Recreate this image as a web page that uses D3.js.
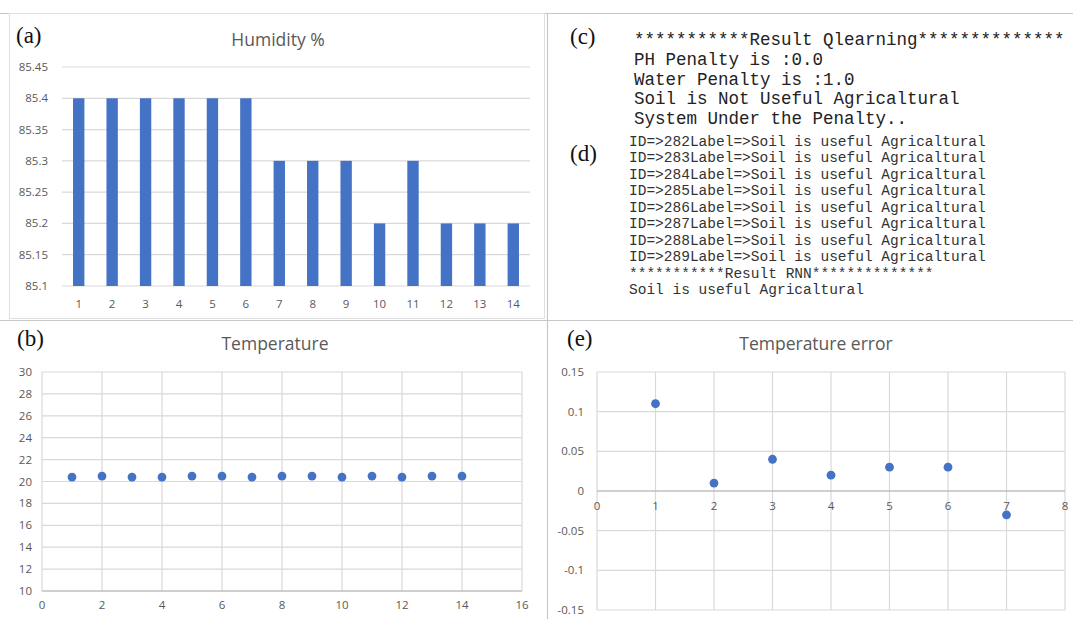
<!DOCTYPE html>
<html>
<head>
<meta charset="utf-8">
<script src="https://cdn.jsdelivr.net/npm/d3@7"></script>
<style>
  body { margin: 0; background: #fff; }
  svg { display: block; }
</style>
</head>
<body>
<div id="fig"></div>
<script>
// (a) humidity
var humidityCats = ["1","2","3","4","5","6","7","8","9","10","11","12","13","14"];
var humidityVals = [85.4, 85.4, 85.4, 85.4, 85.4, 85.4, 85.3, 85.3, 85.3, 85.2, 85.3, 85.2, 85.2, 85.2];
var humidityTicks = [85.1, 85.15, 85.2, 85.25, 85.3, 85.35, 85.4, 85.45];

// (b) temperature
var tempX = [1, 2, 3, 4, 5, 6, 7, 8, 9, 10, 11, 12, 13, 14];
var tempY = [20.4, 20.5, 20.4, 20.4, 20.5, 20.5, 20.4, 20.5, 20.5, 20.4, 20.5, 20.4, 20.5, 20.5];
var tempXTicks = [0, 2, 4, 6, 8, 10, 12, 14, 16];
var tempYTicks = [10, 12, 14, 16, 18, 20, 22, 24, 26, 28, 30];

// (e) temperature error
var errX = [1, 2, 3, 4, 5, 6, 7];
var errY = [0.11, 0.01, 0.04, 0.02, 0.03, 0.03, -0.03];
var errXTicks = [0, 1, 2, 3, 4, 5, 6, 7, 8];
var errYTicks = [-0.15, -0.1, -0.05, 0, 0.05, 0.1, 0.15];

// (c) and (d) console output
var qlearnLines = [
  "***********Result Qlearning**************",
  "PH Penalty is :0.0",
  "Water Penalty is :1.0",
  "Soil is Not Useful Agricaltural",
  "System Under the Penalty.."
];
var rnnLines = [
  "ID=>282Label=>Soil is useful Agricaltural",
  "ID=>283Label=>Soil is useful Agricaltural",
  "ID=>284Label=>Soil is useful Agricaltural",
  "ID=>285Label=>Soil is useful Agricaltural",
  "ID=>286Label=>Soil is useful Agricaltural",
  "ID=>287Label=>Soil is useful Agricaltural",
  "ID=>288Label=>Soil is useful Agricaltural",
  "ID=>289Label=>Soil is useful Agricaltural",
  "***********Result RNN**************",
  "Soil is useful Agricaltural"
];

var WIDTH = 1073, HEIGHT = 619;
var BLUE = "#4472C4", GRID = "#d9d9d9", LABEL = "#595959";
var SANS = "'Open Sans', 'Noto Sans', sans-serif";
var SERIF = "'Liberation Serif', 'DejaVu Serif', serif";
var MONO = "'Liberation Mono', 'DejaVu Sans Mono', monospace";
var fmt = function(d){ return String(+d.toFixed(2)); };

var svg = d3.select("#fig").append("svg")
  .attr("width", WIDTH)
  .attr("height", HEIGHT);

svg.append("rect").attr("width", WIDTH).attr("height", HEIGHT).attr("fill", "#fff");

// frame lines between the panels
var frame = svg.append("g").attr("stroke", "#c8c8c8").attr("stroke-width", 1.2);
frame.append("line").attr("x1", 0).attr("x2", WIDTH).attr("y1", 13.5).attr("y2", 13.5);
frame.append("line").attr("x1", 547.5).attr("x2", 547.5).attr("y1", 13).attr("y2", HEIGHT);
frame.append("line").attr("x1", 0).attr("x2", WIDTH).attr("y1", 320.5).attr("y2", 320.5);
svg.append("rect").attr("x", 9.5).attr("y", 13.5).attr("width", 535).attr("height", 305)
  .attr("fill", "none").attr("stroke", "#e0e0e0");

function panelLabel(txt, x, y){
  svg.append("text").attr("x", x).attr("y", y)
    .attr("font-family", SERIF).attr("font-size", 23).attr("fill", "#111")
    .text(txt);
}
function title(txt, x, y){
  svg.append("text").attr("x", x).attr("y", y).attr("text-anchor", "middle")
    .attr("font-family", SANS).attr("font-size", 17.5).attr("fill", LABEL)
    .text(txt);
}

// ---- (a) bar chart
var xA = d3.scaleBand().domain(humidityCats).range([62, 530])
  .paddingInner(0.66).paddingOuter(0.33);
var yA = d3.scaleLinear().domain([85.1, 85.45]).range([286, 67]);
var gA = svg.append("g");
gA.selectAll("line.grid").data(humidityTicks).enter().append("line")
  .attr("x1", 62).attr("x2", 530)
  .attr("y1", function(d){ return yA(d); }).attr("y2", function(d){ return yA(d); })
  .attr("stroke", GRID).attr("stroke-width", 1.2);
gA.selectAll("rect.bar").data(humidityVals).enter().append("rect")
  .attr("x", function(d, i){ return xA(humidityCats[i]); })
  .attr("width", xA.bandwidth())
  .attr("y", function(d){ return yA(d); })
  .attr("height", function(d){ return yA(85.1) - yA(d); })
  .attr("fill", BLUE);
gA.selectAll("text.yl").data(humidityTicks).enter().append("text")
  .attr("x", 48).attr("y", function(d){ return yA(d) + 4; })
  .attr("text-anchor", "end").attr("font-family", SANS).attr("font-size", 11.5)
  .attr("fill", LABEL).text(fmt);
gA.selectAll("text.xl").data(humidityCats).enter().append("text")
  .attr("x", function(d){ return xA(d) + xA.bandwidth() / 2; }).attr("y", 308)
  .attr("text-anchor", "middle").attr("font-family", SANS).attr("font-size", 11.5)
  .attr("fill", LABEL).text(function(d){ return d; });
title("Humidity %", 278, 46);
panelLabel("(a)", 16, 43);

// ---- scatter helper for (b) and (e)
function scatter(g, x, y, xt, yt, xs, ys, opts){
  g.selectAll("line.vg").data(xt).enter().append("line")
    .attr("x1", function(d){ return x(d); }).attr("x2", function(d){ return x(d); })
    .attr("y1", y.range()[1]).attr("y2", y.range()[0])
    .attr("stroke", GRID).attr("stroke-width", 1.2);
  g.selectAll("line.hg").data(yt).enter().append("line")
    .attr("x1", x.range()[0]).attr("x2", x.range()[1])
    .attr("y1", function(d){ return y(d); }).attr("y2", function(d){ return y(d); })
    .attr("stroke", function(d){ return d === opts.axisAt ? "#bfbfbf" : GRID; })
    .attr("stroke-width", function(d){ return d === opts.axisAt ? 1.5 : 1.2; });
  g.selectAll("text.yl").data(yt).enter().append("text")
    .attr("x", x.range()[0] - opts.yLabelGap).attr("y", function(d){ return y(d) + 4; })
    .attr("text-anchor", "end").attr("font-family", SANS).attr("font-size", 11.5)
    .attr("fill", LABEL).text(fmt);
  g.selectAll("text.xl").data(xt).enter().append("text")
    .attr("x", function(d){ return x(d); }).attr("y", y(opts.axisAt) + opts.xLabelGap)
    .attr("text-anchor", "middle").attr("font-family", SANS).attr("font-size", 11.5)
    .attr("fill", LABEL).text(fmt);
  g.selectAll("circle").data(ys).enter().append("circle")
    .attr("cx", function(d, i){ return x(xs[i]); })
    .attr("cy", function(d){ return y(d); })
    .attr("r", 4.4).attr("fill", BLUE);
}

// ---- (b) temperature
var xB = d3.scaleLinear().domain([0, 16]).range([42, 522]);
var yB = d3.scaleLinear().domain([10, 30]).range([591, 372]);
scatter(svg.append("g"), xB, yB, tempXTicks, tempYTicks, tempX, tempY, { axisAt: 10, yLabelGap: 10, xLabelGap: 18 });
title("Temperature", 275, 350);
panelLabel("(b)", 17, 346);

// ---- (e) temperature error
var xE = d3.scaleLinear().domain([0, 8]).range([597, 1065]);
var yE = d3.scaleLinear().domain([-0.15, 0.15]).range([610, 372]);
scatter(svg.append("g"), xE, yE, errXTicks, errYTicks, errX, errY, { axisAt: 0, yLabelGap: 13, xLabelGap: 19 });
title("Temperature error", 816, 350);
panelLabel("(e)", 567, 346);

// ---- (c) and (d) text output
panelLabel("(c)", 570, 44);
svg.append("g").selectAll("text").data(qlearnLines).enter().append("text")
  .attr("x", 634).attr("y", function(d, i){ return 45 + i * 19.8; })
  .attr("font-family", MONO).attr("font-size", 17.5).attr("fill", "#222")
  .text(function(d){ return d; });
panelLabel("(d)", 570, 161);
svg.append("g").selectAll("text").data(rnnLines).enter().append("text")
  .attr("x", 629).attr("y", function(d, i){ return 146 + i * 16.45; })
  .attr("font-family", MONO).attr("font-size", 14.5).attr("fill", "#333")
  .text(function(d){ return d; });
</script>
</body>
</html>
